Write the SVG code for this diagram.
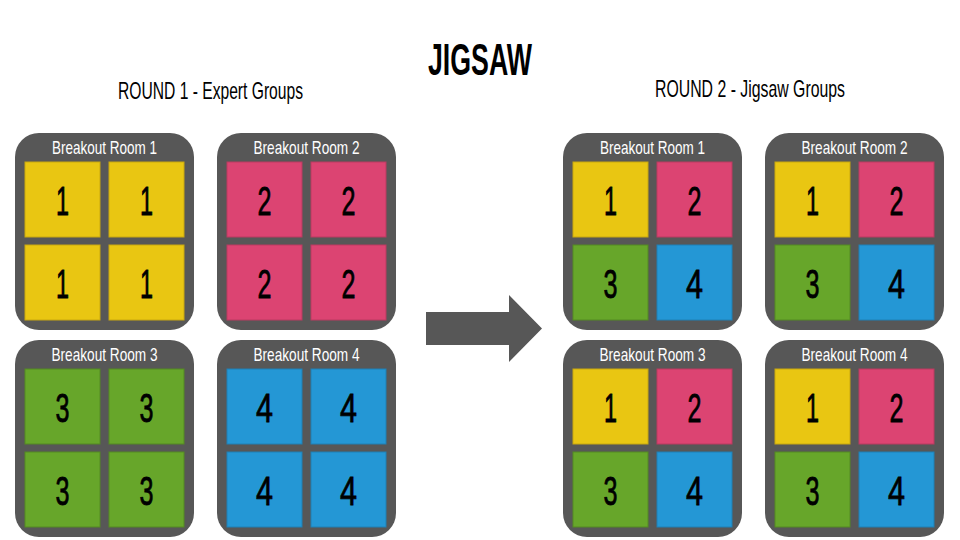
<svg xmlns="http://www.w3.org/2000/svg" width="960" height="540" viewBox="0 0 960 540">
<defs>
<style>
.room{fill:#575757}
.lbl{font-family:"Liberation Sans",Arial,sans-serif;font-size:19px;fill:#ffffff;text-anchor:middle}
.c1{fill:#E9C612;stroke:#c9a80e;stroke-width:1}
.c2{fill:#DC4472;stroke:#bb3a60;stroke-width:1}
.c3{fill:#67A62A;stroke:#548a22;stroke-width:1}
.c4{fill:#2497D5;stroke:#1f80b5;stroke-width:1}
.d{font-family:"Liberation Sans",Arial,sans-serif;font-size:41px;fill:#000000;stroke:#000000;stroke-width:0.8;text-anchor:middle}
.hd{font-family:"Liberation Sans",Arial,sans-serif;font-size:24px;fill:#000000;text-anchor:middle}
.title{font-family:"Liberation Sans",Arial,sans-serif;font-size:45px;font-weight:bold;fill:#000000;text-anchor:middle}
.arrow{fill:#575757}
</style>
</defs>
<rect width="960" height="540" fill="#ffffff"/>
<text class="title" x="480" y="75" textLength="104" lengthAdjust="spacingAndGlyphs">JIGSAW</text>
<text class="hd" x="210.5" y="99" textLength="185" lengthAdjust="spacingAndGlyphs">ROUND 1 - Expert Groups</text>
<text class="hd" x="750" y="97" textLength="190" lengthAdjust="spacingAndGlyphs">ROUND 2 - Jigsaw Groups</text>

<g id="r1-room1">
<rect class="room" x="15" y="133" width="179" height="197" rx="24"/>
<text class="lbl" x="104.5" y="154" textLength="105" lengthAdjust="spacingAndGlyphs">Breakout Room 1</text>
<rect class="c1" x="25" y="162" width="75" height="75"/><text class="d" x="62.5" y="215" textLength="13" lengthAdjust="spacingAndGlyphs">1</text>
<rect class="c1" x="109" y="162" width="75" height="75"/><text class="d" x="146.5" y="215" textLength="13" lengthAdjust="spacingAndGlyphs">1</text>
<rect class="c1" x="25" y="245" width="75" height="75"/><text class="d" x="62.5" y="298" textLength="13" lengthAdjust="spacingAndGlyphs">1</text>
<rect class="c1" x="109" y="245" width="75" height="75"/><text class="d" x="146.5" y="298" textLength="13" lengthAdjust="spacingAndGlyphs">1</text>
</g>
<g id="r1-room2">
<rect class="room" x="217" y="133" width="179" height="197" rx="24"/>
<text class="lbl" x="306.5" y="154" textLength="106" lengthAdjust="spacingAndGlyphs">Breakout Room 2</text>
<rect class="c2" x="227" y="162" width="75" height="75"/><text class="d" x="264.5" y="215" textLength="14" lengthAdjust="spacingAndGlyphs">2</text>
<rect class="c2" x="311" y="162" width="75" height="75"/><text class="d" x="348.5" y="215" textLength="14" lengthAdjust="spacingAndGlyphs">2</text>
<rect class="c2" x="227" y="245" width="75" height="75"/><text class="d" x="264.5" y="298" textLength="14" lengthAdjust="spacingAndGlyphs">2</text>
<rect class="c2" x="311" y="245" width="75" height="75"/><text class="d" x="348.5" y="298" textLength="14" lengthAdjust="spacingAndGlyphs">2</text>
</g>
<g id="r1-room3">
<rect class="room" x="15" y="340" width="179" height="197" rx="24"/>
<text class="lbl" x="104.5" y="361" textLength="106" lengthAdjust="spacingAndGlyphs">Breakout Room 3</text>
<rect class="c3" x="25" y="369" width="75" height="75"/><text class="d" x="62.5" y="422" textLength="14" lengthAdjust="spacingAndGlyphs">3</text>
<rect class="c3" x="109" y="369" width="75" height="75"/><text class="d" x="146.5" y="422" textLength="14" lengthAdjust="spacingAndGlyphs">3</text>
<rect class="c3" x="25" y="452" width="75" height="75"/><text class="d" x="62.5" y="505" textLength="14" lengthAdjust="spacingAndGlyphs">3</text>
<rect class="c3" x="109" y="452" width="75" height="75"/><text class="d" x="146.5" y="505" textLength="14" lengthAdjust="spacingAndGlyphs">3</text>
</g>
<g id="r1-room4">
<rect class="room" x="217" y="340" width="179" height="197" rx="24"/>
<text class="lbl" x="306.5" y="361" textLength="106" lengthAdjust="spacingAndGlyphs">Breakout Room 4</text>
<rect class="c4" x="227" y="369" width="75" height="75"/><text class="d" x="264.5" y="422" textLength="17" lengthAdjust="spacingAndGlyphs">4</text>
<rect class="c4" x="311" y="369" width="75" height="75"/><text class="d" x="348.5" y="422" textLength="17" lengthAdjust="spacingAndGlyphs">4</text>
<rect class="c4" x="227" y="452" width="75" height="75"/><text class="d" x="264.5" y="505" textLength="17" lengthAdjust="spacingAndGlyphs">4</text>
<rect class="c4" x="311" y="452" width="75" height="75"/><text class="d" x="348.5" y="505" textLength="17" lengthAdjust="spacingAndGlyphs">4</text>
</g>

<g id="connectors">
<polygon class="arrow" points="426,312 509,312 509,295 542,328.5 509,362 509,345 426,345"/>
</g>

<g id="r2-room1">
<rect class="room" x="563" y="133" width="179" height="197" rx="24"/>
<text class="lbl" x="652.5" y="154" textLength="105" lengthAdjust="spacingAndGlyphs">Breakout Room 1</text>
<rect class="c1" x="573" y="162" width="75" height="75"/><text class="d" x="610.5" y="215" textLength="13" lengthAdjust="spacingAndGlyphs">1</text>
<rect class="c2" x="657" y="162" width="75" height="75"/><text class="d" x="694.5" y="215" textLength="14" lengthAdjust="spacingAndGlyphs">2</text>
<rect class="c3" x="573" y="245" width="75" height="75"/><text class="d" x="610.5" y="298" textLength="14" lengthAdjust="spacingAndGlyphs">3</text>
<rect class="c4" x="657" y="245" width="75" height="75"/><text class="d" x="694.5" y="298" textLength="17" lengthAdjust="spacingAndGlyphs">4</text>
</g>
<g id="r2-room2">
<rect class="room" x="765" y="133" width="179" height="197" rx="24"/>
<text class="lbl" x="854.5" y="154" textLength="106" lengthAdjust="spacingAndGlyphs">Breakout Room 2</text>
<rect class="c1" x="775" y="162" width="75" height="75"/><text class="d" x="812.5" y="215" textLength="13" lengthAdjust="spacingAndGlyphs">1</text>
<rect class="c2" x="859" y="162" width="75" height="75"/><text class="d" x="896.5" y="215" textLength="14" lengthAdjust="spacingAndGlyphs">2</text>
<rect class="c3" x="775" y="245" width="75" height="75"/><text class="d" x="812.5" y="298" textLength="14" lengthAdjust="spacingAndGlyphs">3</text>
<rect class="c4" x="859" y="245" width="75" height="75"/><text class="d" x="896.5" y="298" textLength="17" lengthAdjust="spacingAndGlyphs">4</text>
</g>
<g id="r2-room3">
<rect class="room" x="563" y="340" width="179" height="197" rx="24"/>
<text class="lbl" x="652.5" y="361" textLength="106" lengthAdjust="spacingAndGlyphs">Breakout Room 3</text>
<rect class="c1" x="573" y="369" width="75" height="75"/><text class="d" x="610.5" y="422" textLength="13" lengthAdjust="spacingAndGlyphs">1</text>
<rect class="c2" x="657" y="369" width="75" height="75"/><text class="d" x="694.5" y="422" textLength="14" lengthAdjust="spacingAndGlyphs">2</text>
<rect class="c3" x="573" y="452" width="75" height="75"/><text class="d" x="610.5" y="505" textLength="14" lengthAdjust="spacingAndGlyphs">3</text>
<rect class="c4" x="657" y="452" width="75" height="75"/><text class="d" x="694.5" y="505" textLength="17" lengthAdjust="spacingAndGlyphs">4</text>
</g>
<g id="r2-room4">
<rect class="room" x="765" y="340" width="179" height="197" rx="24"/>
<text class="lbl" x="854.5" y="361" textLength="106" lengthAdjust="spacingAndGlyphs">Breakout Room 4</text>
<rect class="c1" x="775" y="369" width="75" height="75"/><text class="d" x="812.5" y="422" textLength="13" lengthAdjust="spacingAndGlyphs">1</text>
<rect class="c2" x="859" y="369" width="75" height="75"/><text class="d" x="896.5" y="422" textLength="14" lengthAdjust="spacingAndGlyphs">2</text>
<rect class="c3" x="775" y="452" width="75" height="75"/><text class="d" x="812.5" y="505" textLength="14" lengthAdjust="spacingAndGlyphs">3</text>
<rect class="c4" x="859" y="452" width="75" height="75"/><text class="d" x="896.5" y="505" textLength="17" lengthAdjust="spacingAndGlyphs">4</text>
</g>
</svg>
